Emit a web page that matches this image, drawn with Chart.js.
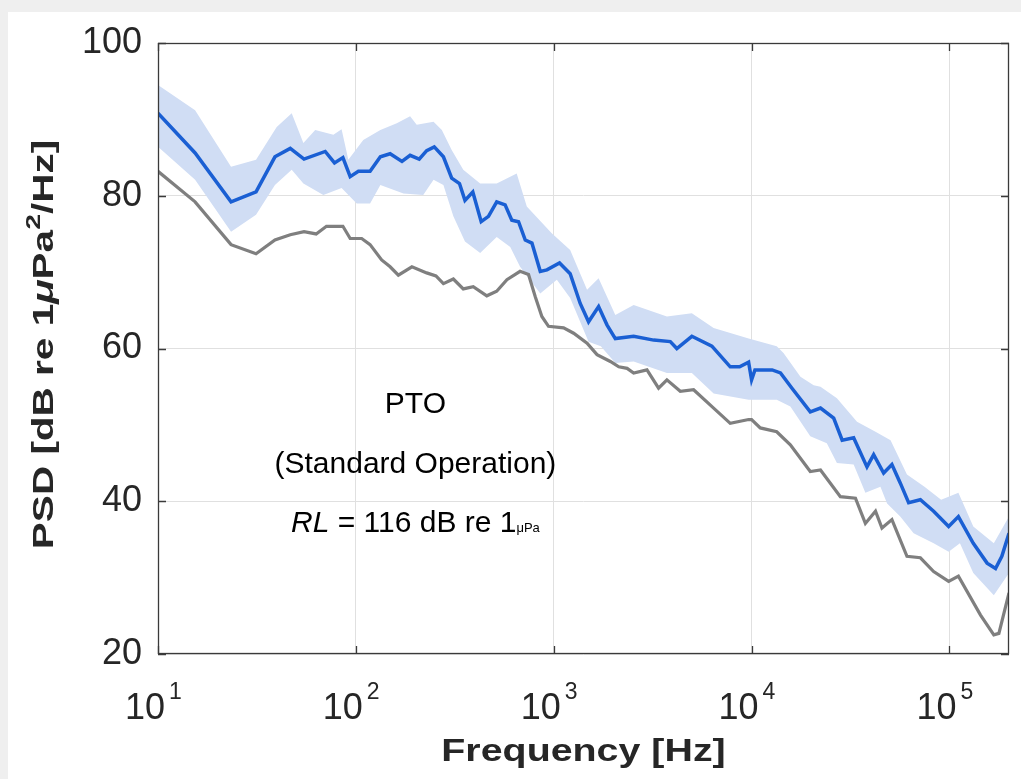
<!DOCTYPE html>
<html>
<head>
<meta charset="utf-8">
<script src="https://cdn.jsdelivr.net/npm/chart.js@4.4.1/dist/chart.umd.min.js"></script>
<style>
  body { margin: 0; background: #efefef; }
  #panel { position: absolute; left: 8px; top: 12px; width: 1013px; height: 767px; background: #fff; }
  #psd { position: absolute; left: 0; top: 0; }
</style>
</head>
<body>
<div id="panel"></div>
<canvas id="psd" width="1021" height="779"></canvas>
<script>
// values (Hz, dB)
const meanFreq = [10, 15.4, 23.4, 31.3, 39, 46.6, 54.7, 70, 78, 86, 93.6, 103, 118, 133, 149, 171, 188, 209, 228, 249,
  277, 305, 334, 356, 390, 430, 468, 515, 568, 614, 664, 718, 776, 855, 924, 1070, 1211, 1361, 1500, 1686,
  1858, 2048, 2535, 3200, 3883, 4190, 4990, 6300, 7800, 8700, 9660, 10000, 10400, 12700, 14000, 16000, 19800, 22300, 26000, 28700,
  32800, 38300, 41400, 46500, 51200, 56400, 62200, 71300, 83200, 99100, 111000, 132000, 155000, 171000, 184000, 200000];
const meanPSD = [90.8, 85.6, 79.2, 80.5, 85.1, 86.2, 84.8, 85.8, 84.3, 85.0, 82.5, 83.2, 83.2, 85.1, 85.5, 84.5, 85.3, 84.8, 85.9, 86.4,
  85.1, 82.3, 81.6, 79.4, 80.5, 76.6, 77.3, 79.2, 78.8, 76.8, 76.6, 74.2, 73.8, 70.1, 70.3, 71.2, 69.8, 65.9, 63.5, 65.5,
  63.1, 61.3, 61.6, 61.1, 60.9, 60.0, 61.6, 60.3, 57.6, 57.6, 58.2, 55.9, 57.2, 57.2, 56.8, 54.8, 51.7, 52.2, 50.9, 48.0,
  48.3, 44.5, 46.1, 43.7, 44.8, 42.4, 39.8, 40.2, 38.7, 36.7, 38.0, 34.5, 31.9, 31.2, 32.8, 35.8];

const upperFreq = [10, 15.4, 23.4, 31.3, 39.8, 47.4, 54.3, 62.3, 77, 84.7, 91.6, 109, 133, 161, 188, 203, 247, 272, 305, 349,
  425, 515, 650, 731, 977, 1211, 1474, 1686, 2048, 2535, 3733, 4990, 6430, 9660, 13400, 14500, 17660, 20600, 22300, 27000,
  34100, 42300, 50400, 61000, 74800, 90800, 111000, 132000, 167600, 200000];
const upperPSD = [94.5, 91.2, 83.8, 84.7, 89.0, 90.8, 86.9, 88.6, 88.0, 88.7, 84.7, 87.3, 88.6, 89.5, 90.4, 89.3, 89.7, 88.6, 86.0, 83.4,
  81.6, 81.6, 82.9, 78.6, 75.1, 72.9, 67.7, 69.2, 64.4, 65.7, 64.2, 64.6, 62.7, 61.3, 60.3, 59.4, 56.3, 55.2, 55.0, 53.5,
  50.4, 49.1, 48.0, 43.5, 41.9, 40.2, 41.1, 36.7, 34.5, 38.0];

const lowerFreq = [10, 15.4, 23.4, 31.3, 39, 47.4, 54.3, 68.5, 84.7, 101, 118, 133, 174, 219, 247, 277, 311, 356, 425, 515,
  603, 676, 855, 1037, 1211, 1500, 1730, 2048, 2535, 3733, 4990, 6430, 9660, 13400, 15700, 19800, 24000, 27000, 32800, 37600,
  44800, 48400, 56400, 65900, 83200, 99100, 113000, 132000, 167600, 200000];
const lowerPSD = [86.4, 82.1, 75.3, 77.5, 81.4, 83.4, 81.6, 80.1, 81.0, 79.0, 79.0, 81.4, 80.3, 80.1, 82.1, 81.4, 77.3, 74.0, 72.5, 74.6,
  73.3, 70.7, 67.2, 69.0, 66.6, 60.9, 60.3, 58.1, 58.3, 56.8, 56.8, 54.1, 53.3, 53.3, 52.4, 48.5, 47.6, 45.0, 44.8, 41.1,
  41.9, 39.7, 38.0, 35.8, 34.5, 33.4, 34.5, 30.6, 27.7, 30.6];

const baseFreq = [10, 15.4, 23.4, 31.3, 39, 46.6, 54.7, 63, 71, 86, 93.6, 107, 118, 135, 149, 164, 192, 228, 254, 277,
  311, 349, 392, 459, 515, 580, 676, 746, 806, 871, 941, 1122, 1261, 1474, 1655, 1933, 2132, 2349, 2535, 2960,
  3388, 3733, 4363, 5093, 6430, 7800, 9660, 10000, 11070, 13400, 15700, 19800, 22300, 28100, 33500, 37600, 42300, 45600, 51200, 61000,
  71300, 83200, 99100, 111000, 143600, 167600, 177800, 200000];
const basePSD = [83.2, 79.2, 73.6, 72.4, 74.2, 74.9, 75.3, 75.0, 76.0, 76.0, 74.4, 74.4, 73.6, 71.6, 70.7, 69.6, 70.7, 69.9, 69.5, 68.5,
  69.1, 67.8, 68.1, 66.9, 67.5, 69.0, 70.1, 69.7, 66.8, 64.2, 62.9, 62.7, 62.0, 60.7, 59.2, 58.3, 57.6, 57.4, 56.8, 57.2,
  54.8, 55.9, 54.4, 54.6, 52.2, 50.2, 50.7, 50.7, 49.6, 49.1, 47.4, 43.9, 44.1, 40.6, 40.4, 37.1, 38.7, 36.5, 37.6, 32.8,
  32.6, 30.8, 29.5, 30.2, 25.1, 22.5, 22.7, 28.0];

const xTicks = [10, 100, 1000, 10000, 100000];
const yTicks = [20, 40, 60, 80, 100];

// text block inside the plot
const noteFreq = 200;
const noteLevels = [51.6, 43.7, 36.0];

const FONT = "'Liberation Sans', Arial, sans-serif";
const pairs = (xs, ys) => xs.map((v, i) => ({ x: v, y: ys[i] }));

// draws the box, inward ticks, decade labels, axis titles and the note
const extras = {
  id: "extras",
  afterDraw(chart) {
    const { ctx, chartArea: a, scales: { x, y } } = chart;
    ctx.save();
    ctx.strokeStyle = "#3a3a3a";
    ctx.lineWidth = 1.3;
    ctx.strokeRect(a.left + 0.5, a.top + 0.5, a.right - a.left - 1, a.bottom - a.top - 1);
    ctx.beginPath();
    xTicks.forEach(v => {
      const px = Math.round(x.getPixelForValue(v)) + 0.5;
      ctx.moveTo(px, a.bottom); ctx.lineTo(px, a.bottom - 8);
      ctx.moveTo(px, a.top); ctx.lineTo(px, a.top + 8);
    });
    yTicks.forEach(v => {
      const py = Math.round(y.getPixelForValue(v)) + 0.5;
      ctx.moveTo(a.left, py); ctx.lineTo(a.left + 8, py);
      ctx.moveTo(a.right, py); ctx.lineTo(a.right - 8, py);
    });
    ctx.stroke();

    // x tick labels: 10 with a raised exponent
    ctx.fillStyle = "#262626";
    ctx.textBaseline = "alphabetic";
    xTicks.forEach(v => {
      const px = x.getPixelForValue(v);
      ctx.font = "36px " + FONT;
      ctx.textAlign = "right";
      ctx.fillText("10", px + 7, 719);
      ctx.font = "23px " + FONT;
      ctx.textAlign = "left";
      ctx.fillText(String(Math.round(Math.log10(v))), px + 11, 699);
    });

    // x title
    ctx.save();
    ctx.translate((a.left + a.right) / 2, 761);
    ctx.scale(1.27, 1);
    ctx.font = "bold 31px " + FONT;
    ctx.textAlign = "center";
    ctx.fillText("Frequency [Hz]", 0, 0);
    ctx.restore();

    // y title
    const parts = [
      ["PSD [dB re 1", "bold 30px", 0],
      ["\u03bc", "bold italic 30px", 0],
      ["Pa", "bold 30px", 0],
      ["2", "bold 21px", -13],
      ["/Hz]", "bold 30px", 0],
    ];
    ctx.save();
    ctx.translate(53, (a.top + a.bottom) / 2 - 4);
    ctx.rotate(-Math.PI / 2);
    ctx.scale(1.35, 1);
    ctx.textAlign = "left";
    let total = 0;
    parts.forEach(p => { ctx.font = p[1] + " " + FONT; total += ctx.measureText(p[0]).width; });
    let cx = -total / 2;
    parts.forEach(p => {
      ctx.font = p[1] + " " + FONT;
      ctx.fillText(p[0], cx, p[2]);
      cx += ctx.measureText(p[0]).width;
    });
    ctx.restore();

    // note
    const nx = x.getPixelForValue(noteFreq);
    ctx.fillStyle = "#000";
    ctx.font = "30px " + FONT;
    ctx.textAlign = "center";
    ctx.fillText("PTO", nx, y.getPixelForValue(noteLevels[0]));
    ctx.fillText("(Standard Operation)", nx, y.getPixelForValue(noteLevels[1]));
    const rl = [
      ["RL", "italic 30px"],
      [" = 116 dB re 1", "30px"],
      ["\u03bcPa", "13px"],
    ];
    ctx.textAlign = "left";
    let w = 0;
    rl.forEach(p => { ctx.font = p[1] + " " + FONT; w += ctx.measureText(p[0]).width; });
    let rx = nx - w / 2;
    const ry = y.getPixelForValue(noteLevels[2]);
    rl.forEach(p => {
      ctx.font = p[1] + " " + FONT;
      ctx.fillText(p[0], rx, ry);
      rx += ctx.measureText(p[0]).width;
    });
    ctx.restore();
  }
};

new Chart(document.getElementById("psd"), {
  type: "line",
  data: {
    datasets: [
      { label: "Mean", data: pairs(meanFreq, meanPSD), borderColor: "#1a5fd3", borderWidth: 3.5, pointRadius: 0, fill: false },
      { label: "Baseline", data: pairs(baseFreq, basePSD), borderColor: "#7f7f7f", borderWidth: 3.2, pointRadius: 0, fill: false },
      { label: "Upper", data: pairs(upperFreq, upperPSD), borderColor: "transparent", borderWidth: 0, pointRadius: 0, backgroundColor: "#d0ddf4", fill: "+1" },
      { label: "Lower", data: pairs(lowerFreq, lowerPSD), borderColor: "transparent", borderWidth: 0, pointRadius: 0, fill: false },
    ],
  },
  options: {
    responsive: false,
    animation: false,
    layout: { padding: { top: 43, right: 12, left: 0, bottom: 0 } },
    plugins: { legend: { display: false }, tooltip: { enabled: false } },
    scales: {
      x: {
        type: "logarithmic",
        min: 10,
        max: 200000,
        afterBuildTicks: s => { s.ticks = xTicks.map(v => ({ value: v })); },
        afterFit: s => { s.height = 125; },
        ticks: { display: false },
        grid: { color: "#e0e0e0", drawTicks: false },
        border: { display: false },
      },
      y: {
        min: 20,
        max: 100,
        afterBuildTicks: s => { s.ticks = yTicks.map(v => ({ value: v })); },
        afterFit: s => { s.width = 158; },
        ticks: { color: "#262626", font: { family: FONT, size: 36 }, padding: 16 },
        grid: { color: "#e0e0e0", drawTicks: false },
        border: { display: false },
      },
    },
  },
  plugins: [extras],
});
</script>
</body>
</html>
